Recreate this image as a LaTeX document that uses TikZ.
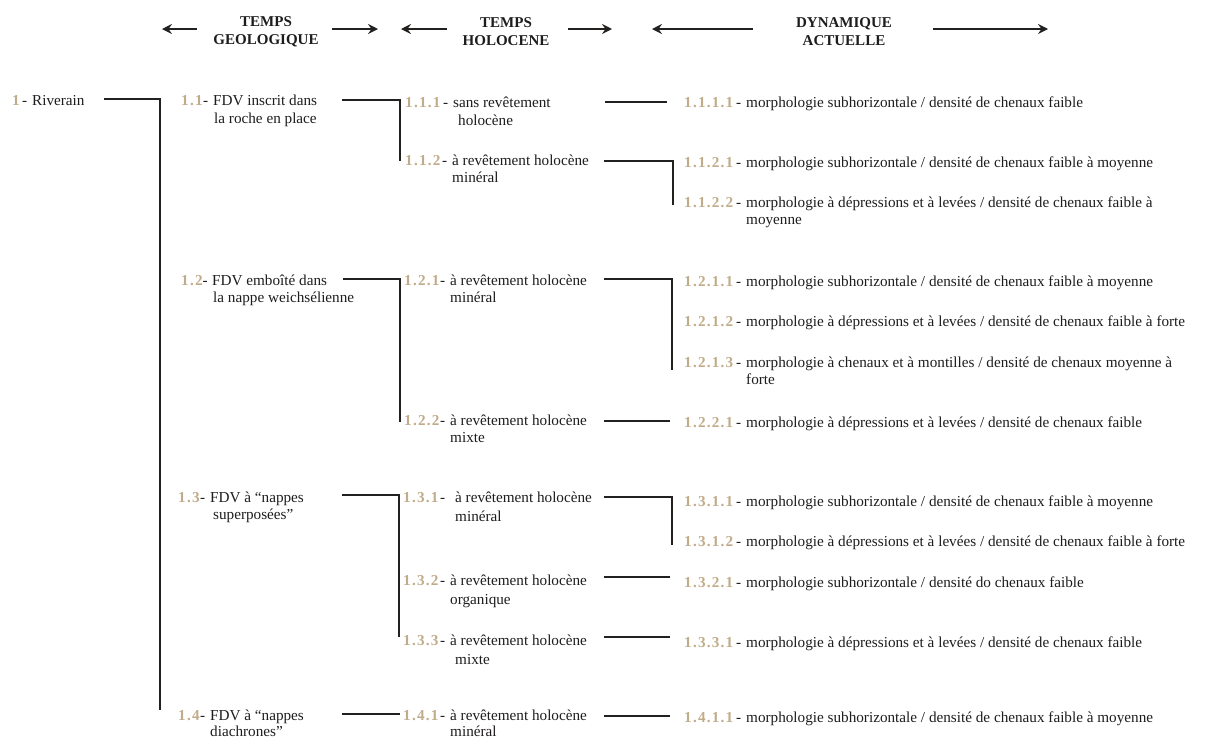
\documentclass[tikz,border=0pt]{standalone}
\usepackage{fontspec}
\setmainfont{Liberation Serif}
\usetikzlibrary{arrows.meta}
\definecolor{numc}{RGB}{192,172,138}
\definecolor{linec}{RGB}{35,32,32}
\definecolor{txtc}{RGB}{30,28,28}
\newcommand\nb[2]{\makebox[#1][l]{{\color{numc}\bfseries\addfontfeature{LetterSpace=8}#2}\hfill-\hspace{5pt}}}
\begin{document}
\begin{tikzpicture}[x=1pt,y=-1pt,
  txt/.style={anchor=base west,inner sep=0pt,font=\fontsize{15.2}{18.5}\selectfont,text=txtc},
  hdr/.style={inner sep=0pt,align=center,font=\fontsize{15}{18}\selectfont\bfseries,text=txtc},
  conn/.style={draw=linec,line width=1.4pt},
  harrow/.style={draw=linec,line width=1.3pt,-{Stealth[length=10pt,width=10pt,inset=3.5pt]}}
]
\useasboundingbox (0,0) rectangle (1205,740);

% headers
\node[hdr] (h1) at (266,32) {TEMPS\\GEOLOGIQUE};
\node[hdr] (h2) at (506,32) {TEMPS\\HOLOCENE};
\node[hdr] (h3) at (844,32) {DYNAMIQUE\\ACTUELLE};
\coordinate (a1s) at (197,29); \coordinate (a1e) at (162,29);
\coordinate (a2s) at (332,29); \coordinate (a2e) at (378,29);
\coordinate (a3s) at (447,29); \coordinate (a3e) at (401,29);
\coordinate (a4s) at (568,29); \coordinate (a4e) at (612,29);
\coordinate (a5s) at (753,29); \coordinate (a5e) at (652,29);
\coordinate (a6s) at (933,29); \coordinate (a6e) at (1048,29);
\foreach \i in {1,...,6} \draw[harrow] (a\i s) -- (a\i e);

% level 1
\node[txt] (n1) at (12,105) {\nb{20pt}{1}Riverain};

% level 2
\node[txt] (n11) at (181,105) {\nb{32pt}{1.1}\begin{tabular}[t]{@{}l@{}}FDV inscrit dans\\[-0.5pt]\hspace{1pt}la roche en place\end{tabular}};
\node[txt] (n12) at (181,285) {\nb{31pt}{1.2}\begin{tabular}[t]{@{}l@{}}FDV emboîté dans\\[-1pt]\hspace{1pt}la nappe weichsélienne\end{tabular}};
\node[txt] (n13) at (178,502) {\nb{32pt}{1.3}\begin{tabular}[t]{@{}l@{}}FDV à “nappes\\[-1pt]\hspace{3pt}superposées”\end{tabular}};
\node[txt] (n14) at (178,720) {\nb{32pt}{1.4}\begin{tabular}[t]{@{}l@{}}FDV à “nappes\\[-2.5pt]diachrones”\end{tabular}};

% level 3
\node[txt] (n111) at (405,107) {\nb{48pt}{1.1.1}\begin{tabular}[t]{@{}l@{}}sans revêtement\\[0pt]\hspace{5pt}holocène\end{tabular}};
\node[txt] (n112) at (405,165) {\nb{47pt}{1.1.2}\begin{tabular}[t]{@{}l@{}}à revêtement holocène\\[-1pt]minéral\end{tabular}};
\node[txt] (n121) at (404,285) {\nb{46pt}{1.2.1}\begin{tabular}[t]{@{}l@{}}à revêtement holocène\\[-1pt]minéral\end{tabular}};
\node[txt] (n122) at (404,425) {\nb{46pt}{1.2.2}\begin{tabular}[t]{@{}l@{}}à revêtement holocène\\[-1pt]mixte\end{tabular}};
\node[txt] (n131) at (403,502) {\nb{47pt}{1.3.1}\hspace{5pt}\begin{tabular}[t]{@{}l@{}}à revêtement holocène\\[1pt]minéral\end{tabular}};
\node[txt] (n132) at (403,585) {\nb{47pt}{1.3.2}\begin{tabular}[t]{@{}l@{}}à revêtement holocène\\[1pt]organique\end{tabular}};
\node[txt] (n133) at (403,645) {\nb{47pt}{1.3.3}\begin{tabular}[t]{@{}l@{}}à revêtement holocène\\[1pt]\hspace{5pt}mixte\end{tabular}};
\node[txt] (n141) at (403,720) {\nb{47pt}{1.4.1}\begin{tabular}[t]{@{}l@{}}à revêtement holocène\\[-2.5pt]minéral\end{tabular}};

% level 4
\node[txt] (n1111) at (684,107) {\nb{62pt}{1.1.1.1}morphologie subhorizontale / densité de chenaux faible};
\node[txt] (n1121) at (684,167) {\nb{62pt}{1.1.2.1}morphologie subhorizontale / densité de chenaux faible à moyenne};
\node[txt] (n1122) at (684,207) {\nb{62pt}{1.1.2.2}\begin{tabular}[t]{@{}l@{}}morphologie à dépressions et à levées / densité de chenaux faible à\\[-1pt]moyenne\end{tabular}};
\node[txt] (n1211) at (684,286) {\nb{62pt}{1.2.1.1}morphologie subhorizontale / densité de chenaux faible à moyenne};
\node[txt] (n1212) at (684,326) {\nb{62pt}{1.2.1.2}morphologie à dépressions et à levées / densité de chenaux faible à forte};
\node[txt] (n1213) at (684,367) {\nb{62pt}{1.2.1.3}\begin{tabular}[t]{@{}l@{}}morphologie à chenaux et à montilles / densité de chenaux moyenne à\\[-1pt]forte\end{tabular}};
\node[txt] (n1221) at (684,427) {\nb{62pt}{1.2.2.1}morphologie à dépressions et à levées / densité de chenaux faible};
\node[txt] (n1311) at (684,506) {\nb{62pt}{1.3.1.1}morphologie subhorizontale / densité de chenaux faible à moyenne};
\node[txt] (n1312) at (684,546) {\nb{62pt}{1.3.1.2}morphologie à dépressions et à levées / densité de chenaux faible à forte};
\node[txt] (n1321) at (684,587) {\nb{62pt}{1.3.2.1}morphologie subhorizontale / densité do chenaux faible};
\node[txt] (n1331) at (684,647) {\nb{62pt}{1.3.3.1}morphologie à dépressions et à levées / densité de chenaux faible};
\node[txt] (n1411) at (684,722) {\nb{62pt}{1.4.1.1}morphologie subhorizontale / densité de chenaux faible à moyenne};

% connector end points
\coordinate (c1s) at (104,99);  \coordinate (c1b) at (160,99);  \coordinate (c1e) at (160,710);
\coordinate (c11s) at (342,100); \coordinate (c11b) at (400,100); \coordinate (c11e) at (400,161);
\coordinate (c12s) at (343,279); \coordinate (c12b) at (400,279); \coordinate (c12e) at (400,422);
\coordinate (c13s) at (342,495); \coordinate (c13b) at (399,495); \coordinate (c13e) at (399,637);
\coordinate (c14s) at (342,714); \coordinate (c14e) at (400,714);
\coordinate (c111s) at (605,102); \coordinate (c111e) at (667,102);
\coordinate (c112s) at (604,161); \coordinate (c112b) at (673,161); \coordinate (c112e) at (673,205);
\coordinate (c121s) at (604,279); \coordinate (c121b) at (672,279); \coordinate (c121e) at (672,370);
\coordinate (c122s) at (604,421); \coordinate (c122e) at (670,421);
\coordinate (c131s) at (604,497); \coordinate (c131b) at (672,497); \coordinate (c131e) at (672,545);
\coordinate (c132s) at (604,577); \coordinate (c132e) at (670,577);
\coordinate (c133s) at (604,637); \coordinate (c133e) at (670,637);
\coordinate (c141s) at (604,716); \coordinate (c141e) at (670,716);

\draw[conn] (c1s) -- (c1b) -- (c1e);
\draw[conn] (c11s) -- (c11b) -- (c11e);
\draw[conn] (c12s) -- (c12b) -- (c12e);
\draw[conn] (c13s) -- (c13b) -- (c13e);
\draw[conn] (c14s) -- (c14e);
\draw[conn] (c111s) -- (c111e);
\draw[conn] (c112s) -- (c112b) -- (c112e);
\draw[conn] (c121s) -- (c121b) -- (c121e);
\draw[conn] (c122s) -- (c122e);
\draw[conn] (c131s) -- (c131b) -- (c131e);
\draw[conn] (c132s) -- (c132e);
\draw[conn] (c133s) -- (c133e);
\draw[conn] (c141s) -- (c141e);
\end{tikzpicture}
\end{document}
